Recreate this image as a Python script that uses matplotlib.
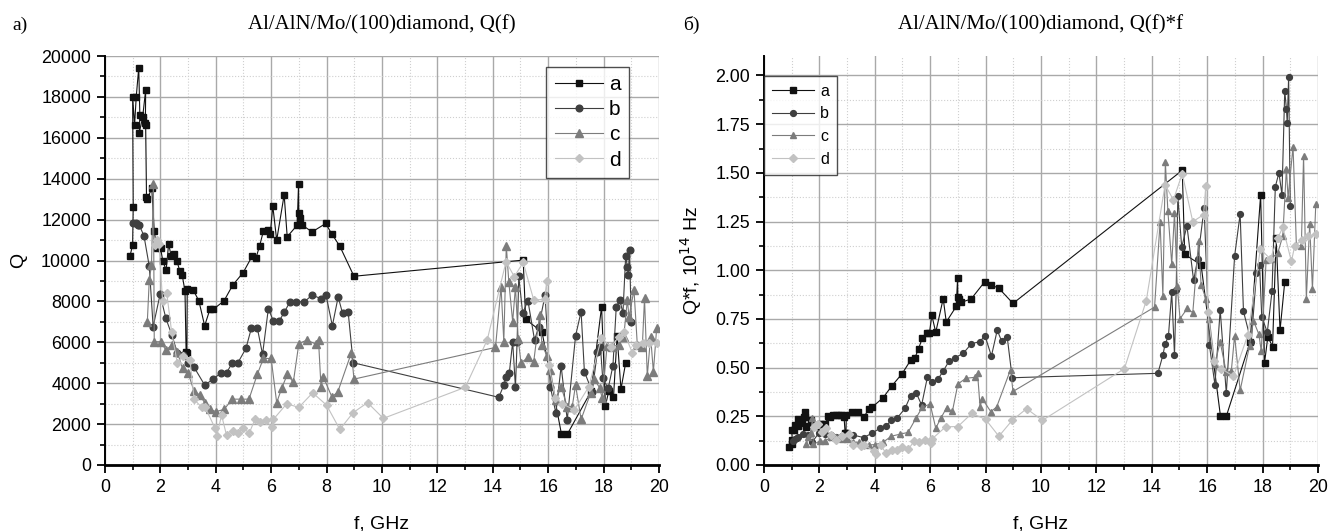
import numpy as np
import matplotlib
matplotlib.use("Agg")
import matplotlib.pyplot as plt
from matplotlib.ticker import MultipleLocator

# frequency (GHz) and quality factor Q for the four samples
a_f = [0.90, 1.00, 1.02, 1.00, 1.07, 1.13, 1.22, 1.26, 1.24, 1.36, 1.47, 1.46, 1.47, 1.50, 1.53,
       1.69, 1.78, 1.87, 1.93, 2.01, 2.09, 2.21, 2.30, 2.39, 2.49, 2.60, 2.70, 2.79, 2.89, 2.93,
       2.96, 2.97, 3.19, 3.39, 3.60, 3.79, 3.91, 4.30, 4.61, 4.99, 5.31, 5.45, 5.58, 5.72, 5.87,
       5.97, 6.06, 6.20, 6.47, 6.58, 6.94, 6.99, 7.00, 7.03, 7.12, 7.48, 7.97, 8.18, 8.48, 8.99,
       15.10, 15.19, 15.78, 16.48, 16.69, 17.55, 17.93, 18.07, 18.19, 18.36, 18.49, 18.63, 18.80]
a_q = [10200, 10760, 12630, 18010, 16630, 18010, 19430, 17130, 16250, 17000, 18340, 16740, 16610, 13120, 13010,
       13530, 11440, 10600, 10750, 10590, 9970, 9530, 10830, 10210, 10310, 9970, 9500, 9280, 8500, 5540,
       5470, 8620, 8550, 8030, 6810, 7610, 7610, 8030, 8790, 9410, 10200, 10110, 10700, 11430, 11510,
       11320, 12670, 10990, 13210, 11160, 11730, 13760, 12300, 12100, 11730, 11400, 11810, 11320, 10700, 9230,
       10020, 7120, 6510, 1520, 1500, 3600, 7740, 2900, 3620, 3310, 6310, 3710, 5000]

b_f = [1.03, 1.11, 1.18, 1.24, 1.41, 1.60, 1.74, 1.99, 2.20, 2.41, 2.61, 2.80, 3.01, 3.21, 3.60,
       3.91, 4.19, 4.39, 4.60, 4.80, 5.09, 5.29, 5.50, 5.69, 5.90, 6.08, 6.29, 6.47, 6.68, 6.90,
       7.20, 7.48, 7.79, 7.98, 8.21, 8.42, 8.58, 8.78, 8.96, 14.22, 14.40, 14.48, 14.60, 14.72, 14.82,
       14.88, 14.94, 15.08, 15.27, 15.51, 15.66, 15.89, 16.08, 16.28, 16.47, 16.69, 16.99, 17.19, 17.31,
       17.59, 17.78, 17.89, 17.97, 18.17, 18.34, 18.46, 18.59, 18.70, 18.80, 18.86, 18.89, 18.94, 19.00]
b_q = [11840, 11810, 11760, 11730, 11200, 9720, 6760, 8340, 7170, 6380, 5500, 5370, 5000, 4800, 3910,
       4200, 4510, 4510, 5000, 5000, 5700, 6710, 6710, 5410, 7650, 7040, 7040, 7460, 7980, 7980,
       7980, 8310, 8140, 8310, 6810, 8220, 7410, 7490, 5000, 3310, 3910, 4290, 4520, 6030, 3800,
       6030, 9240, 7420, 8040, 6110, 6760, 8310, 3830, 2530, 4840, 2200, 6310, 7500, 4560,
       3590, 5540, 5750, 4240, 3750, 4860, 7740, 8070, 7420, 10220, 9700, 9290, 10510, 7010]

c_f = [1.53, 1.60, 1.68, 1.75, 1.78, 2.01, 2.20, 2.41, 2.61, 2.80, 3.01, 3.21, 3.42, 3.60, 3.79,
       4.01, 4.30, 4.60, 4.90, 5.20, 5.50, 5.72, 6.00, 6.20, 6.38, 6.59, 6.80, 7.00, 7.29, 7.62,
       7.71, 7.80, 7.88, 8.19, 8.40, 8.90, 8.99, 14.10, 14.30, 14.40, 14.49, 14.58, 14.72, 14.82, 14.92,
       15.02, 15.28, 15.48, 15.69, 15.78, 15.96, 16.08, 16.27, 16.47, 16.69, 16.87, 16.99, 17.19, 17.53,
       17.67, 17.87, 17.95, 18.13, 18.31, 18.55, 18.73, 18.86, 18.92, 19.10, 19.22, 19.40, 19.48, 19.58,
       19.70, 19.80, 19.92]
c_q = [7000, 9040, 9770, 13760, 6030, 6030, 5620, 5860, 5540, 4720, 4480, 3630, 3420, 3050, 2720,
       2610, 2720, 3220, 3220, 3220, 4430, 5210, 5210, 3050, 3750, 4450, 4040, 5940, 6110, 5910,
       6110, 3830, 4320, 3340, 3550, 5500, 4200, 5750, 8720, 6030, 10730, 8960, 7010, 8720, 6160,
       5000, 5260, 5050, 7330, 5870, 5330, 4650, 3180, 3830, 2850, 2850, 3910, 2230, 3500,
       4190, 3750, 3260, 5820, 5790, 5870, 6280, 8070, 7250, 8560, 5870, 5790, 8150, 4350,
       6280, 4560, 6720]

d_f = [1.80, 1.87, 1.95, 2.08, 2.23, 2.41, 2.61, 2.83, 3.07, 3.22, 3.49, 3.61, 3.97, 4.04, 4.21,
       4.39, 4.63, 4.79, 4.99, 5.21, 5.42, 5.60, 5.81, 6.02, 6.08, 6.56, 7.00, 7.50, 8.00, 8.48,
       8.96, 9.48, 10.05, 13.01, 13.80, 14.48, 14.78, 15.10, 15.48, 15.87, 15.95, 16.02, 16.25, 16.50,
       16.95, 17.47, 17.92, 18.28, 18.55, 18.73, 19.04, 19.16, 19.43, 19.64, 19.92]
d_q = [10750, 10990, 10830, 8030, 8420, 6480, 5000, 5340, 5130, 3210, 2820, 2850, 1810, 1440, 2440,
       1450, 1670, 1560, 1810, 1560, 2250, 2100, 2180, 1840, 2230, 2990, 2820, 3530, 2930, 1740,
       2560, 3050, 2280, 3800, 6110, 9940, 9210, 9910, 8070, 8100, 8990, 4890, 3300, 3000,
       2690, 3830, 6190, 5790, 6280, 6520, 5490, 5870, 5950, 5980, 5950]

labels = ["a", "b", "c", "d"]
freqs = [a_f, b_f, c_f, d_f]
qvals = [a_q, b_q, c_q, d_q]

colors = ["#111111", "#3f3f3f", "#7c7c7c", "#c2c2c2"]
markers = ["s", "o", "^", "D"]
msize_left = [4.6, 4.8, 5.4, 4.4]
msize_right = [4.0, 4.2, 4.8, 3.9]

plt.rcParams["font.family"] = ["Liberation Sans", "DejaVu Sans"]

fig = plt.figure(figsize=(13.42, 5.31), dpi=100)
ax1 = fig.add_axes([0.0782, 0.1243, 0.4128, 0.7702])
ax2 = fig.add_axes([0.5693, 0.1243, 0.4128, 0.7702])


def style_axis(ax, ymax, ymajor, yminor):
    ax.set_xlim(0, 20)
    ax.set_ylim(0, ymax)
    ax.xaxis.set_major_locator(MultipleLocator(2))
    ax.xaxis.set_minor_locator(MultipleLocator(1))
    ax.yaxis.set_major_locator(MultipleLocator(ymajor))
    ax.yaxis.set_minor_locator(MultipleLocator(yminor))
    ax.grid(which="major", color="#a9a9a9", linewidth=1.0, linestyle="-")
    ax.grid(which="minor", color="#cfcfcf", linewidth=0.8, linestyle=":")
    ax.set_axisbelow(True)
    for side in ["top", "right"]:
        ax.spines[side].set_visible(False)
    ax.spines["left"].set_linewidth(1.4)
    ax.spines["bottom"].set_linewidth(2.0)
    ax.tick_params(which="major", direction="out", length=6, width=1.3, labelsize=12.9, pad=4)
    ax.tick_params(which="minor", direction="out", length=3.5, width=1.2)


style_axis(ax1, 20000, 2000, 1000)
style_axis(ax2, 2.1, 0.25, 0.125)
ax2.yaxis.set_major_formatter(matplotlib.ticker.FormatStrFormatter("%.2f"))

for i in range(4):
    f = np.array(freqs[i])
    q = np.array(qvals[i])
    ax1.plot(f, q, color=colors[i], marker=markers[i], markersize=msize_left[i],
             linewidth=0.8, label=labels[i])
    ax2.plot(f, q * f * 1e-5, color=colors[i], marker=markers[i], markersize=msize_right[i],
             linewidth=0.8, label=labels[i])

ax1.set_xlabel("f, GHz", fontsize=14, labelpad=14)
ax2.set_xlabel("f, GHz", fontsize=14, labelpad=14)
ax1.set_ylabel("Q", fontsize=14, labelpad=10)
ax2.set_ylabel("Q*f, 10$^{14}$ Hz", fontsize=14, labelpad=8)

leg1 = ax1.legend(loc="upper left", bbox_to_anchor=(0.797, 0.974), fontsize=15, frameon=True,
                  fancybox=False, edgecolor="#222222", handlelength=2.3, borderpad=0.4,
                  labelspacing=0.3, handletextpad=0.3, borderaxespad=0)
leg1.get_frame().set_linewidth(1.0)
leg2 = ax2.legend(loc="upper left", bbox_to_anchor=(0.0, 0.952), fontsize=11.5, frameon=True,
                  fancybox=False, edgecolor="#222222", handlelength=2.6, borderpad=0.5,
                  labelspacing=0.48, handletextpad=0.4, borderaxespad=0)
leg2.get_frame().set_linewidth(1.0)
leg2.set_zorder(5)

fig.text(0.2846, 0.953, "Al/AlN/Mo/(100)diamond, Q(f)", fontsize=15, family="Liberation Serif",
         ha="center", va="center")
fig.text(0.7757, 0.953, "Al/AlN/Mo/(100)diamond, Q(f)*f", fontsize=15, family="Liberation Serif",
         ha="center", va="center")
fig.text(0.0149, 0.953, "a)", fontsize=14, family="Liberation Serif", ha="center", va="center")
fig.text(0.515, 0.953, "б)", fontsize=14, family="Liberation Serif", ha="center", va="center")

fig.savefig("out.png", dpi=100)
